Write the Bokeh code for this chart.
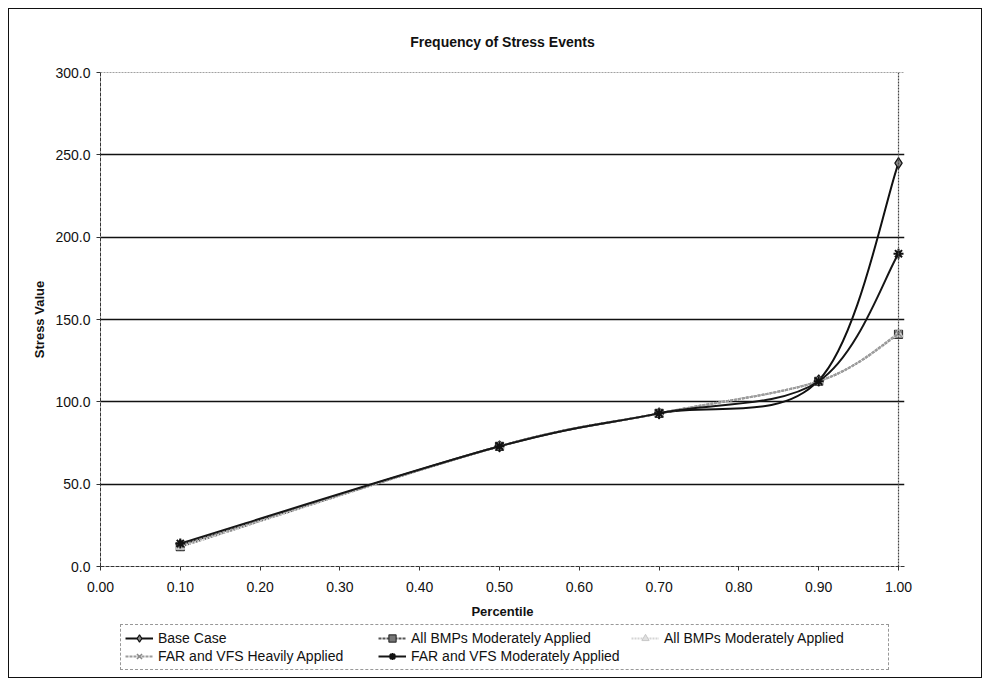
from bokeh.plotting import figure
from bokeh.layouts import column
from bokeh.models import (Range1d, FixedTicker, PrintfTickFormatter, Legend, LegendItem,
                          ColumnDataSource, Span)
from bokeh.embed import file_html
from bokeh.resources import INLINE

# ---- data ----
percentile = [0.10, 0.50, 0.70, 0.90, 1.00]
base_case = [13.0, 73.0, 93.0, 113.0, 245.0]
all_bmps_1 = [12.0, 73.0, 93.0, 112.5, 141.0]
all_bmps_2 = [12.0, 73.0, 93.0, 112.5, 141.0]
far_vfs_heavy = [13.0, 73.0, 93.0, 112.5, 141.5]
far_vfs_moderate = [14.0, 73.0, 93.0, 112.5, 190.0]

x_ticks = [0.0, 0.1, 0.2, 0.3, 0.4, 0.5, 0.6, 0.7, 0.8, 0.9, 1.0]
y_ticks = [0, 50, 100, 150, 200, 250, 300]

series = [
    ("Base Case", base_case),
    ("All BMPs Moderately Applied", all_bmps_1),
    ("All BMPs Moderately Applied", all_bmps_2),
    ("FAR and VFS Heavily Applied", far_vfs_heavy),
    ("FAR and VFS Moderately Applied", far_vfs_moderate),
]

styles = [
    dict(line_color="#111111", line_width=2, line_dash="solid",
         marker="diamond", size=11, fill_color="#8a8a8a", mline="#111111", mwidth=1.2),
    dict(line_color="#555555", line_width=2, line_dash="3 1",
         marker="square", size=8, fill_color="#777777", mline="#333333", mwidth=1.2),
    dict(line_color="#d4d4d4", line_width=2, line_dash="2 1",
         marker="triangle", size=9, fill_color="#e0e0e0", mline="#c8c8c8", mwidth=1),
    dict(line_color="#9c9c9c", line_width=2, line_dash="3 1",
         marker="x", size=9, fill_color=None, mline="#8a8a8a", mwidth=1.5),
    dict(line_color="#161616", line_width=2, line_dash="solid",
         marker="asterisk", size=10, fill_color=None, mline="#111111", mwidth=2),
]


def bezier_segments(xs, ys):
    """Control points for Excel-like smoothed line through the data points."""
    n = len(xs)
    out = dict(x0=[], y0=[], x1=[], y1=[], cx0=[], cy0=[], cx1=[], cy1=[])
    for i in range(n - 1):
        i0 = max(i - 1, 0)
        i3 = min(i + 2, n - 1)
        p0 = (xs[i0], ys[i0]); p1 = (xs[i], ys[i])
        p2 = (xs[i + 1], ys[i + 1]); p3 = (xs[i3], ys[i3])
        out["x0"].append(p1[0]); out["y0"].append(p1[1])
        out["x1"].append(p2[0]); out["y1"].append(p2[1])
        out["cx0"].append(p1[0] + (p2[0] - p0[0]) / 6.0)
        out["cy0"].append(p1[1] + (p2[1] - p0[1]) / 6.0)
        out["cx1"].append(p2[0] - (p3[0] - p1[0]) / 6.0)
        out["cy1"].append(p2[1] - (p3[1] - p1[1]) / 6.0)
    return out


FONT = "Liberation Sans"

p = figure(frame_width=804, frame_height=494, output_backend="svg", toolbar_location=None,
           x_range=Range1d(0, 1.0075), y_range=Range1d(0, 300),
           min_border_left=91, min_border_right=77, min_border_top=63, min_border_bottom=56,
           background_fill_color="white", border_fill_color="white")

p.title.text = "Frequency of Stress Events"
p.title.align = "center"
p.title.text_font = FONT
p.title.text_font_size = "14px"
p.title.text_font_style = "bold"
p.title.text_color = "#111111"
p.title.standoff = 45

p.outline_line_color = None
p.xgrid.visible = False
p.ygrid.ticker = FixedTicker(ticks=y_ticks[1:-1])
p.ygrid.grid_line_color = "#111111"
p.ygrid.grid_line_width = 1.5

p.xaxis.ticker = FixedTicker(ticks=x_ticks)
p.yaxis.ticker = FixedTicker(ticks=y_ticks)
p.xaxis.formatter = PrintfTickFormatter(format="%.2f")
p.yaxis.formatter = PrintfTickFormatter(format="%.1f")
for ax in (p.xaxis, p.yaxis):
    ax.axis_line_color = "#333333"
    ax.axis_line_dash = "4 1"
    ax.major_tick_line_color = "#333333"
    ax.major_tick_out = 4
    ax.major_tick_in = 0
    ax.minor_tick_line_color = None
    ax.major_label_text_font = FONT
    ax.major_label_text_font_size = "14px"
    ax.major_label_text_color = "#111111"
    ax.axis_label_text_font = FONT
    ax.axis_label_text_font_size = "13px"
    ax.axis_label_text_font_style = "bold"
    ax.axis_label_text_color = "#111111"
p.xaxis.axis_label = "Percentile"
p.yaxis.axis_label = "Stress Value"
p.xaxis.major_label_standoff = 11
p.xaxis.axis_label_standoff = 9
p.yaxis.major_label_standoff = 6
p.yaxis.axis_label_standoff = 5

# frame top and right edges (dotted like the reference)
p.add_layout(Span(location=300, dimension="width", line_color="#444444",
                  line_dash="2 1", line_width=1.2))
p.add_layout(Span(location=1.0, dimension="height", line_color="#444444",
                  line_dash="2 1", line_width=1.2))

# legend strip below the chart: same series, drawn outside its visible range so only
# the legend swatches show
lg = figure(width=972, height=55, output_backend="svg", toolbar_location=None,
            x_range=Range1d(5, 6), y_range=Range1d(5000, 6000),
            x_axis_location=None, y_axis_location=None, min_border=0,
            background_fill_color="white", border_fill_color="white")
lg.outline_line_color = None
lg.grid.visible = False

items = []
for (label, ys), st in zip(series, styles):
    src = ColumnDataSource(bezier_segments(percentile, ys))
    line_kw = dict(line_color=st["line_color"], line_width=st["line_width"],
                   line_dash=st["line_dash"])
    mark_kw = dict(marker=st["marker"], size=st["size"], fill_color=st["fill_color"],
                   line_color=st["mline"], line_width=st["mwidth"])
    p.bezier(x0="x0", y0="y0", x1="x1", y1="y1", cx0="cx0", cy0="cy0",
             cx1="cx1", cy1="cy1", source=src, **line_kw)
    p.scatter(percentile, ys, **mark_kw)
    bz = lg.bezier(x0="x0", y0="y0", x1="x1", y1="y1", cx0="cx0", cy0="cy0",
                   cx1="cx1", cy1="cy1", source=src, **line_kw)
    sc = lg.scatter(percentile, ys, **mark_kw)
    items.append(LegendItem(label=label, renderers=[bz, sc]))

legend = Legend(items=items, orientation="horizontal", ncols=3,
                label_text_font=FONT, label_text_font_size="14px",
                label_text_color="#111111", glyph_width=28, glyph_height=18,
                label_height=18, label_width=220, label_standoff=5, spacing=0,
                padding=4, margin=0, border_line_color="#333333",
                border_line_width=1, border_line_dash="3 1",
                background_fill_color="white", location=(20, 7))
lg.add_layout(legend, "center")

layout = column(p, lg, spacing=0)
layout.styles = {"border": "1px solid #111111", "margin-left": "8px", "margin-top": "8px"}

open("out.html", "w").write(file_html(layout, INLINE))
